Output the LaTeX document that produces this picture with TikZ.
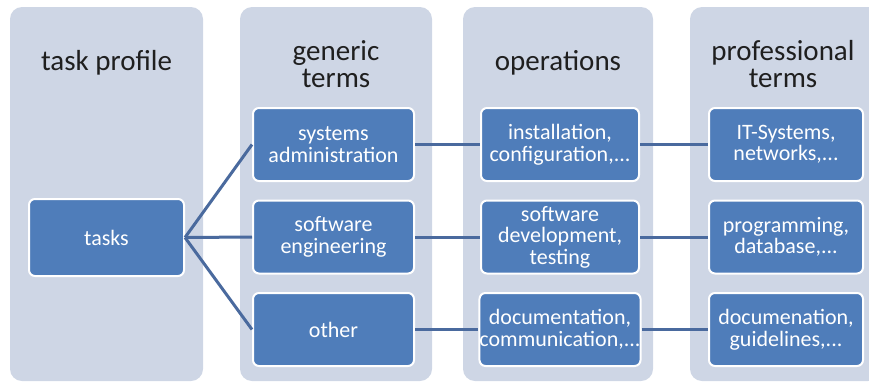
\documentclass[tikz,border=0pt]{standalone}
\usepackage{fontspec}
\setmainfont{Carlito}
\usetikzlibrary{positioning}

\definecolor{panelfill}{HTML}{CED6E5}
\definecolor{termfill}{HTML}{4F7DBA}
\definecolor{linkcolor}{HTML}{4A6A9E}

\tikzset{
	panel/.style = {fill = panelfill, rounded corners = 12pt},
	heading/.style = {align = center, text = black!88, inner sep = 0pt,
		font = \fontsize{29}{27}\selectfont},
	term/.style = {draw = white, line width = 2pt, fill = termfill, rounded corners = 6pt,
		text = white, align = center, inner sep = 0pt, minimum height = 73pt,
		font = \fontsize{22}{21.5}\selectfont},
	link/.style = {linkcolor, line width = 3pt}
}

\begin{document}
\begin{tikzpicture}[x = 1pt, y = -1pt]

	\useasboundingbox (0, 0) rectangle (869, 383);

	% Columns

	\fill [panel] (10, 7) rectangle (203, 381);
	\fill [panel] (240, 7) rectangle (432, 381);
	\fill [panel] (463, 7) rectangle (653, 381);
	\fill [panel] (690, 7) rectangle (880, 381);

	% Column headings

	\node [heading] (profile) at (106.5, 63) {task profile};
	\node [heading] (generic) at (336, 64) {generic\\terms};
	\node [heading] (operations) at (558, 63) {operations};
	\node [heading] (professional) at (783, 64) {professional\\terms};

	% Task profile

	\node [term, minimum width = 155pt, minimum height = 77pt] (tasks) at (106.5, 237.5) {tasks};

	% Generic terms

	\node [term, minimum width = 161pt] (sysadmin) at (333.5, 144.5) {systems\\administration};
	\node [term, minimum width = 161pt] (softeng) at (333.5, 237) {software\\engineering};
	\node [term, minimum width = 161pt] (other) at (333.5, 329.5) {other};

	% Operations

	\node [term, minimum width = 158pt] (install) at (560, 144.5) {installation,\\configuration,...};
	\node [term, minimum width = 158pt] (develop) at (560, 237) {software\\development,\\testing};
	\node [term, minimum width = 158pt] (document) at (560, 329.5) {documentation,\\communication,...};

	% Professional terms

	\node [term, minimum width = 154pt] (systems) at (786, 144.5) {IT-Systems,\\networks,...};
	\node [term, minimum width = 154pt] (programming) at (786, 237) {programming,\\database,...};
	\node [term, minimum width = 154pt] (guidelines) at (786, 329.5) {documenation,\\guidelines,...};

	% Links

	\draw [link] (tasks.east) -- (sysadmin.west);
	\draw [link] (tasks.east) -- (softeng.west);
	\draw [link] (tasks.east) -- (other.west);

	\draw [link] (sysadmin) -- (install);
	\draw [link] (softeng) -- (develop);
	\draw [link] (other) -- (document);

	\draw [link] (install) -- (systems);
	\draw [link] (develop) -- (programming);
	\draw [link] (document) -- (guidelines);

\end{tikzpicture}
\end{document}
